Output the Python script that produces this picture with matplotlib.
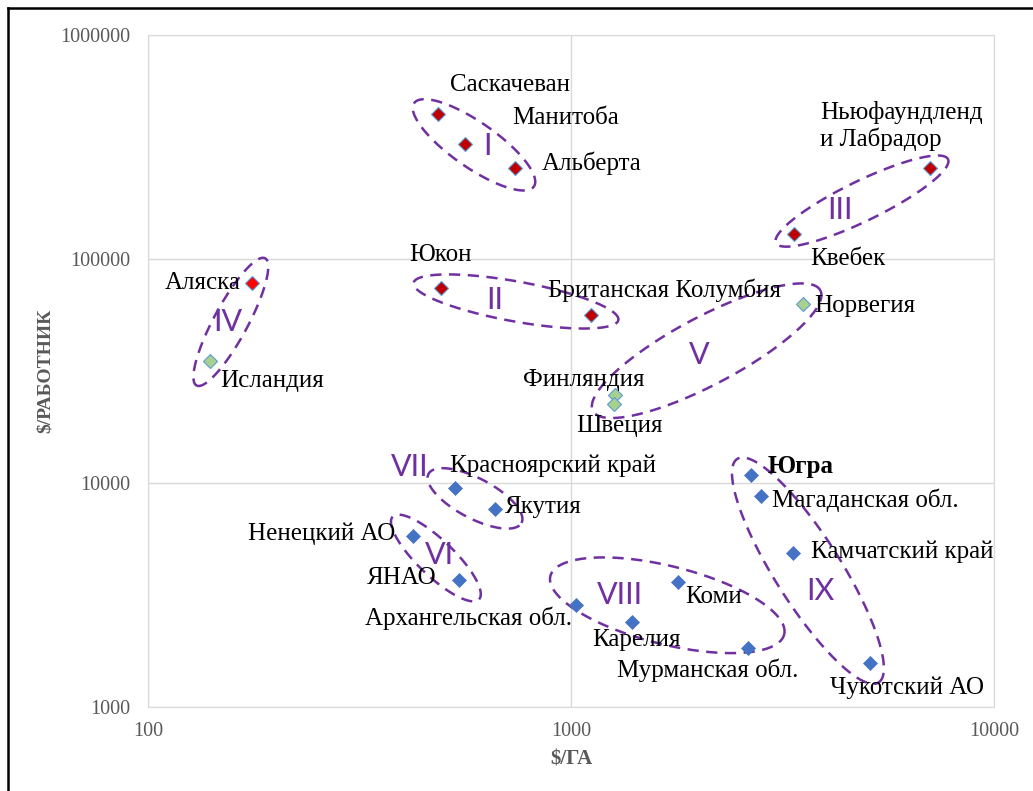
import numpy as np
import matplotlib
matplotlib.use("Agg")
from matplotlib import pyplot as plt
from matplotlib.lines import Line2D

# Regions, $/ha and $/worker
regions = ["Саскачеван", "Манитоба", "Альберта", "Ньюфаундленд\nи Лабрадор", "Квебек",
           "Аляска", "Исландия", "Юкон", "Британская Колумбия", "Норвегия",
           "Финляндия", "Швеция", "Красноярский край", "Якутия", "Ненецкий АО",
           "ЯНАО", "Архангельская обл.", "Карелия", "Коми", "Мурманская обл.",
           "Югра", "Магаданская обл.", "Камчатский край", "Чукотский АО"]
ga = [485, 561, 738, 7060, 3365,
      176, 140, 493, 1114, 3530,
      1270, 1265, 532, 661, 423,
      543, 1028, 1393, 1790, 2618,
      2666, 2812, 3350, 5090]
worker = [443000, 326000, 255000, 255000, 129000,
          78200, 35100, 74300, 56200, 62900,
          24700, 22500, 9510, 7660, 5800,
          3690, 2850, 2390, 3610, 1833,
          10860, 8750, 4870, 1570]
kind = ["canada"] * 5 + ["alaska", "nordic", "canada", "canada", "nordic",
                         "nordic", "nordic"] + ["russia"] * 12

# Clusters drawn as dashed ellipses
groups = {
    "I": ["Саскачеван", "Манитоба", "Альберта"],
    "II": ["Юкон", "Британская Колумбия"],
    "III": ["Квебек", "Ньюфаундленд\nи Лабрадор"],
    "IV": ["Аляска", "Исландия"],
    "V": ["Финляндия", "Швеция", "Норвегия"],
    "VI": ["Ненецкий АО", "ЯНАО"],
    "VII": ["Красноярский край", "Якутия"],
    "VIII": ["Архангельская обл.", "Карелия", "Коми", "Мурманская обл."],
    "IX": ["Югра", "Магаданская обл.", "Камчатский край", "Чукотский АО"],
}

# styles
marker_style = {
    "canada": dict(color="#C00000", mec="#5B9BD5", mew=0.8, ms=7),
    "alaska": dict(color="#FF0000", mec="#5B9BD5", mew=0.8, ms=7),
    "nordic": dict(color="#A9D18E", mec="#5B9BD5", mew=0.8, ms=7.5),
    "russia": dict(color="#4472C4", mec="#4472C4", mew=0.5, ms=7.5),
}
# label offsets in pixels (dx right, dy down) and horizontal alignment
label_pos = {
    "Саскачеван": (12, -29, "left"), "Манитоба": (47, -26, "left"),
    "Альберта": (27, -5, "left"), "Ньюфаундленд\nи Лабрадор": (-110, -42, "left"),
    "Квебек": (16, 25, "left"), "Аляска": (-11, 0, "right"),
    "Исландия": (10, 20, "left"), "Юкон": (-1, -33, "center"),
    "Британская Колумбия": (-43, -25, "left"), "Норвегия": (12, 2, "left"),
    "Финляндия": (-31, -15, "center"), "Швеция": (5, 22, "center"),
    "Красноярский край": (-5, -22, "left"), "Якутия": (10, -2, "left"),
    "Ненецкий АО": (-18, -2, "right"), "ЯНАО": (-22, -2, "right"),
    "Архангельская обл.": (-4, 13, "right"), "Карелия": (5, 18, "center"),
    "Коми": (7, 15, "left"), "Мурманская обл.": (-40, 22, "center"),
    "Югра": (16, -8, "left"), "Магаданская обл.": (11, 4, "left"),
    "Камчатский край": (18, -1, "left"), "Чукотский АО": (37, 25, "center"),
}
# ellipse padding (along, across) and numeral offset from ellipse centre, pixels
ell_pad = {"I": (26, 18), "II": (28, 20), "III": (20, 20), "IV": (28, 17), "V": (22, 30),
           "VI": (28, 18), "VII": (30, 20), "VIII": (32, 14), "IX": (21, 30)}
num_off = {"I": (13, 1), "II": (-21, -1), "III": (-22, 9), "IV": (-3, 0), "V": (-7, 4),
           "VI": (4, -3), "VII": (-65, -31), "VIII": (-47, -10), "IX": (12, 20)}

PURPLE = "#7030A0"
GREY = "#595959"


def draw_group(ax, names, pad_a, pad_b):
    idx = [regions.index(n) for n in names]
    pts = ax.transData.transform(np.column_stack([np.array(ga)[idx], np.array(worker)[idx]]))
    d = pts[:, None, :] - pts[None, :, :]
    dist = np.hypot(d[..., 0], d[..., 1])
    i, j = np.unravel_index(dist.argmax(), dist.shape)
    u = (pts[j] - pts[i]) / dist[i, j]
    v = np.array([-u[1], u[0]])
    rel = pts - pts[i]
    a = rel @ u
    b = rel @ v
    c = pts[i] + u * (a.min() + a.max()) / 2 + v * (b.min() + b.max()) / 2
    ra = (a.max() - a.min()) / 2 + pad_a
    rb = (b.max() - b.min()) / 2 + pad_b
    t = np.linspace(0, 2 * np.pi, 300)
    xy = c + np.outer(ra * np.cos(t), u) + np.outer(rb * np.sin(t), v)
    data = ax.transData.inverted().transform(xy)
    ax.plot(data[:, 0], data[:, 1], color=PURPLE, lw=1.8, ls=(0, (4.5, 3)), zorder=2)
    return c


fig = plt.figure(figsize=(10.33, 7.91), dpi=100)
ax = fig.add_axes([148 / 1033, 1 - 707 / 791, (994 - 148) / 1033, (707 - 35) / 791])
ax.set_xscale("log")
ax.set_yscale("log")
ax.set_xlim(100, 10000)
ax.set_ylim(1000, 1000000)
ax.grid(True, which="major", color="#D9D9D9", lw=1)
ax.minorticks_off()
for s in ax.spines.values():
    s.set_color("#D9D9D9")
ax.tick_params(length=0, labelsize=14.5, labelcolor=GREY)
ax.tick_params(axis="y", pad=13)
ax.tick_params(axis="x", pad=11)
ax.set_xticks([100, 1000, 10000])
ax.set_xticklabels(["100", "1000", "10000"], family="Liberation Serif")
ax.set_yticks([1000, 10000, 100000, 1000000])
ax.set_yticklabels(["1000", "10000", "100000", "1000000"], family="Liberation Serif")
ax.set_xlabel("$/ГА", family="Liberation Serif", weight="bold", size=15, color=GREY)
ax.set_ylabel("$/РАБОТНИК", family="Liberation Serif", weight="bold", size=14, color=GREY)
ax.xaxis.set_label_coords(0.5, -(759 - 707) / 672, transform=ax.transAxes)
ax.yaxis.set_label_coords(-(148 - 45) / 846, (707 - 371) / 672, transform=ax.transAxes)
ax.xaxis.label.set_va("center")
ax.yaxis.label.set_va("center")

for n, x, y, k in zip(regions, ga, worker, kind):
    st = marker_style[k]
    ax.plot(x, y, "D", color=st["color"], mec=st["mec"], mew=st["mew"], ms=st["ms"], zorder=3)
    dx, dy, ha = label_pos[n]
    ax.annotate(n, (x, y), xytext=(dx, -dy), textcoords="offset pixels", ha=ha, va="center",
                family="Liberation Serif", size=18, color="black",
                weight="bold" if n == "Югра" else "normal", linespacing=1.15, zorder=4)

for g, names in groups.items():
    c = draw_group(ax, names, *ell_pad[g])
    ox, oy = num_off[g]
    pos = ax.transData.inverted().transform((c[0] + ox, c[1] - oy))
    ax.text(pos[0], pos[1], g, color=PURPLE, family="Lato", size=22, ha="center", va="center", zorder=4)

# cropped black frame on the left and top
fig.add_artist(Line2D([7.5 / 1033, 7.5 / 1033], [0, 1 - 7.5 / 791], color="black", lw=1.8))
fig.add_artist(Line2D([7.5 / 1033, 1], [1 - 7.5 / 791, 1 - 7.5 / 791], color="black", lw=1.8))

fig.savefig("out.png", dpi=100)
